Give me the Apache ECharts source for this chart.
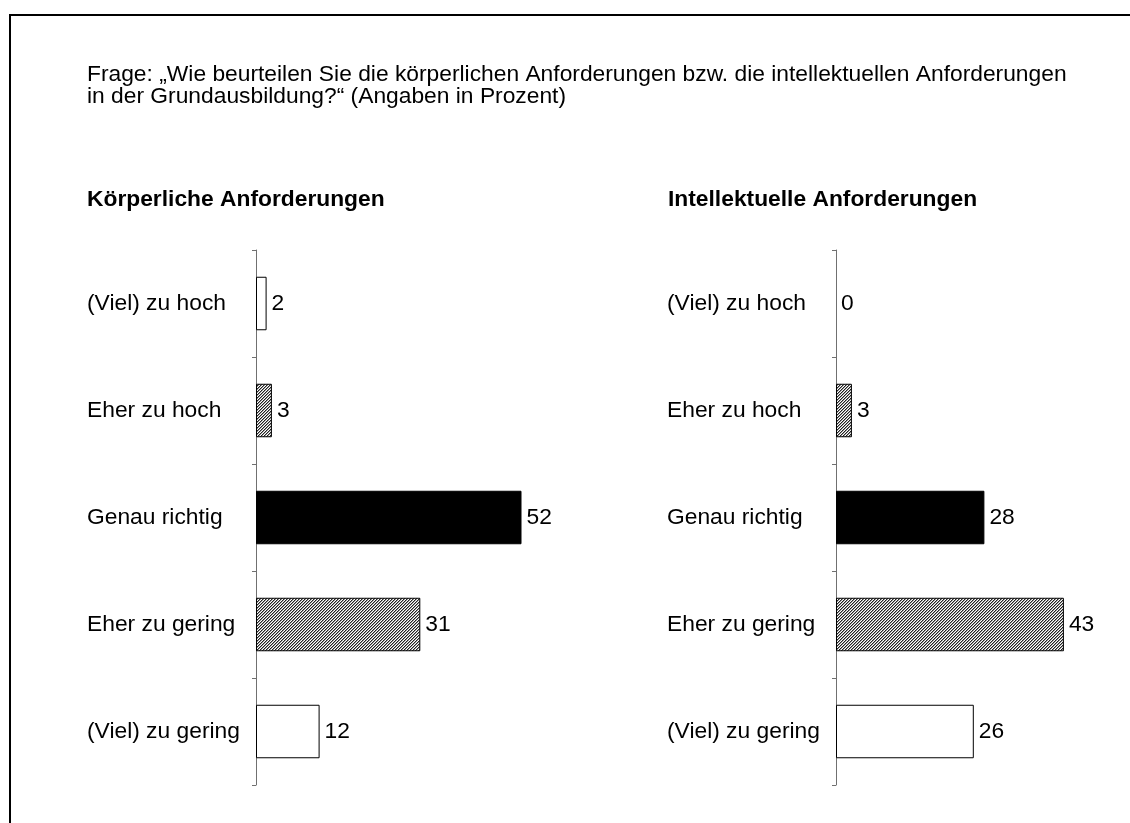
<!DOCTYPE html>
<html>
<head>
<meta charset="utf-8">
<script src="https://cdn.jsdelivr.net/npm/echarts@6/dist/echarts.min.js"></script>
<style>
  html, body { margin: 0; padding: 0; background: #fff; }
  #main { width: 1130px; height: 823px; }
</style>
</head>
<body>
<div id="main"></div>
<script>
// data
var categories = ['(Viel) zu hoch', 'Eher zu hoch', 'Genau richtig', 'Eher zu gering', '(Viel) zu gering'];
var koerperlich = [2, 3, 52, 31, 12];
var intellektuell = [0, 3, 28, 43, 26];
var panelTitles = ['Körperliche Anforderungen', 'Intellektuelle Anforderungen'];
var question = 'Frage: „Wie beurteilen Sie die körperlichen Anforderungen bzw. die intellektuellen Anforderungen\nin der Grundausbildung?“ (Angaben in Prozent)';

// fine diagonal hatch, like the original print
function makeHatch() {
  var c = document.createElement('canvas');
  c.width = 3; c.height = 3;
  var ctx = c.getContext('2d');
  var shades = ['#222222', '#999999', '#ffffff'];
  for (var y = 0; y < 3; y++) {
    for (var x = 0; x < 3; x++) {
      ctx.fillStyle = shades[(x + y) % 3];
      ctx.fillRect(x, y, 1, 1);
    }
  }
  return c;
}
var hatch = { image: makeHatch(), repeat: 'repeat' };
var fills = ['#ffffff', hatch, '#000000', hatch, '#ffffff'];

var font = 'Liberation Sans, Arial, sans-serif';
var fs = 22.8;
var chart = echarts.init(document.getElementById('main'));

function makeData(values) {
  return values.map(function (v, i) {
    return { value: v, itemStyle: { color: fills[i], borderWidth: v === 0 ? 0 : 1 } };
  });
}

function yAxisFor(gi) {
  return {
    type: 'category',
    gridIndex: gi,
    data: categories,
    inverse: true,
    axisLine: { show: true, lineStyle: { color: '#707070', width: 1 } },
    axisTick: { show: true, length: 4, lineStyle: { color: '#707070' } },
    axisLabel: {
      align: 'left',
      margin: 169,
      fontFamily: font,
      fontSize: fs,
      color: '#000'
    }
  };
}

function xAxisFor(gi) {
  return { type: 'value', gridIndex: gi, min: 0, max: 50, show: false };
}

function seriesFor(gi, values) {
  return {
    type: 'bar',
    xAxisIndex: gi,
    yAxisIndex: gi,
    data: makeData(values),
    barWidth: '50%',
    itemStyle: { borderColor: '#000' },
    label: {
      show: true,
      position: 'right',
      distance: 5,
      fontFamily: font,
      fontSize: fs,
      color: '#000'
    },
    silent: true
  };
}

var option = {
  animation: false,
  title: [
    {
      text: question,
      left: 87, top: 64, padding: 0,
      textStyle: { fontFamily: font, fontSize: fs, fontWeight: 'normal', color: '#000', lineHeight: 22 }
    },
    {
      text: panelTitles[0],
      left: 87, top: 188, padding: 0,
      textStyle: { fontFamily: font, fontSize: fs, fontWeight: 'bold', color: '#000', lineHeight: 24 }
    },
    {
      text: panelTitles[1],
      left: 668, top: 188, padding: 0,
      textStyle: { fontFamily: font, fontSize: fs, fontWeight: 'bold', color: '#000', lineHeight: 24 }
    }
  ],
  graphic: [
    {
      type: 'rect',
      shape: { x: 10, y: 15, width: 1200, height: 900 },
      style: { fill: 'none', stroke: '#000', lineWidth: 2 },
      silent: true
    }
  ],
  grid: [
    { left: 256, top: 250, width: 265, height: 535 },
    { left: 836, top: 250, width: 265, height: 535 }
  ],
  xAxis: [xAxisFor(0), xAxisFor(1)],
  yAxis: [yAxisFor(0), yAxisFor(1)],
  series: [seriesFor(0, koerperlich), seriesFor(1, intellektuell)]
};

chart.setOption(option);
</script>
</body>
</html>
